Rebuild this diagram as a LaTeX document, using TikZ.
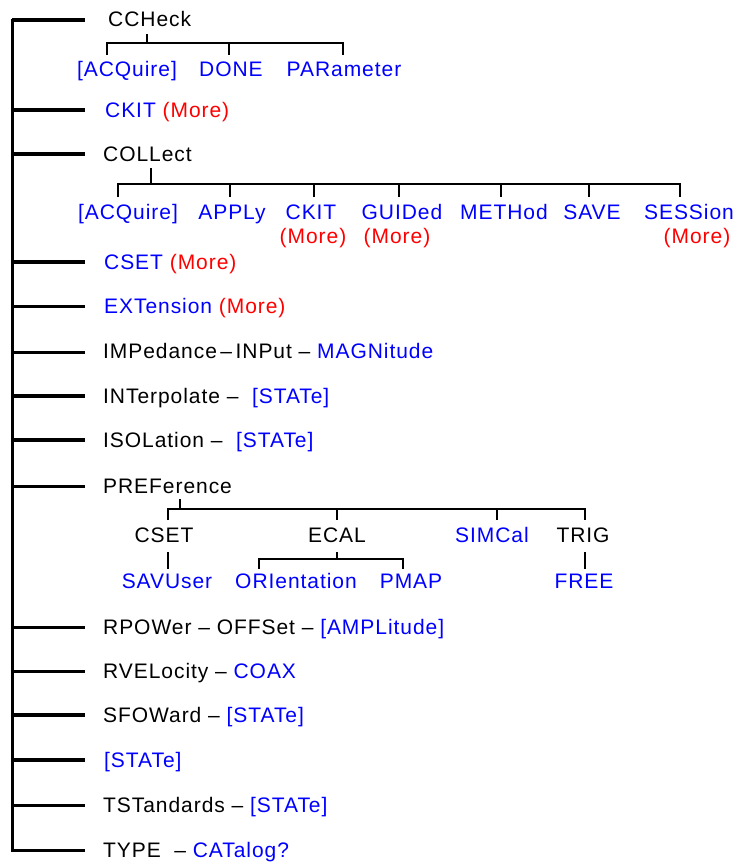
\documentclass[tikz,border=0pt]{standalone}
\usepackage{fontspec}
\setmainfont[LetterSpace=4.5]{Liberation Sans}
\usetikzlibrary{positioning}
\definecolor{cmdblue}{RGB}{0,0,255}
\definecolor{morered}{RGB}{255,0,0}

\begin{document}
\begin{tikzpicture}[x=1pt,y=-1pt,every node/.style={font=\fontsize{21}{25}\selectfont,inner sep=0pt},
  cmd/.style={anchor=base west},
  kid/.style={anchor=base,text=cmdblue},
  more/.style={anchor=base,text=morered},
  heavy/.style={line width=4.5pt},
  light/.style={line width=3pt},
  fine/.style={line width=1.3pt}]
\useasboundingbox (0,0) rectangle (735,862);
\coordinate (top) at (12,18.5);
\coordinate (bot) at (12,851.5);
\draw[line width=3pt] (top)--(bot);
\draw[heavy](12,20)--(85,20);
\draw[heavy](12,110)--(85,110);
\draw[heavy](12,154)--(85,154);
\draw[heavy](12,262)--(85,262);
\draw[light](12,306)--(85,306);
\draw[light](12,352)--(85,352);
\draw[heavy](12,396)--(85,396);
\draw[heavy](12,440)--(85,440);
\draw[light](12,486)--(85,486);
\draw[light](12,627)--(85,627);
\draw[light](12,671)--(85,671);
\draw[heavy](12,715)--(85,715);
\draw[heavy](12,760)--(85,760);
\draw[light](12,805)--(85,805);
\draw[light](12,850)--(85,850);
\node[cmd] (ccheck) at (108,27) {CCHeck};
\node[cmd] (ckit) at (105,117) {\textcolor{cmdblue}{CKIT} \textcolor{morered}{(More)}};
\node[cmd] (collect) at (103,161) {COLLect};
\node[cmd] (cset) at (104,269) {\textcolor{cmdblue}{CSET} \textcolor{morered}{(More)}};
\node[cmd] (ext) at (104,313) {\textcolor{cmdblue}{EXTension} \textcolor{morered}{(More)}};
\node[cmd] (imp) at (103,358) {IMPedance\,--\,INPut -- \textcolor{cmdblue}{MAGNitude}};
\node[cmd] (interp) at (103,403) {INTerpolate --\ \ \textcolor{cmdblue}{[STATe]}};
\node[cmd] (isol) at (103,447) {ISOLation --\ \ \textcolor{cmdblue}{[STATe]}};
\node[cmd] (pref) at (103,493) {PREFerence};
\node[cmd] (rpow) at (103,634) {RPOWer -- OFFSet -- \textcolor{cmdblue}{[AMPLitude]}};
\node[cmd] (rvel) at (103,678) {RVELocity -- \textcolor{cmdblue}{COAX}};
\node[cmd] (sfow) at (103,722) {SFOWard -- \textcolor{cmdblue}{[STATe]}};
\node[cmd,text=cmdblue] (state) at (104,767) {[STATe]};
\node[cmd] (tstd) at (103,812) {TSTandards -- \textcolor{cmdblue}{[STATe]}};
\node[cmd] (type) at (103,857) {TYPE\ \ -- \textcolor{cmdblue}{CATalog?}};
\draw[fine](147,34)--(147,43);
\draw[fine](107,55)--(107,43)--(343,43)--(343,55);
\draw[fine](229,43)--(229,55);
\node[kid] (ccacq) at (127,76) {[ACQuire]};
\node[kid] (ccdone) at (231,76) {DONE};
\node[kid] (ccpar) at (344,76) {PARameter};
\draw[fine](151,168)--(151,184);
\draw[fine](118,197)--(118,184)--(680,184)--(680,197);
\draw[fine](230,184)--(230,197);
\draw[fine](314,184)--(314,197);
\draw[fine](399,184)--(399,197);
\draw[fine](501,184)--(501,197);
\draw[fine](589,184)--(589,197);
\node[kid] (coacq) at (128,219) {[ACQuire]};
\node[kid] (coapply) at (232,219) {APPLy};
\node[kid] (cockit) at (311,219) {CKIT};
\node[kid] (coguid) at (402,219) {GUIDed};
\node[kid] (cometh) at (504,219) {METHod};
\node[kid] (cosave) at (592,219) {SAVE};
\node[kid] (cosess) at (689,219) {SESSion};
\node[more] at (313,243) {(More)};
\node[more] at (397,243) {(More)};
\node[more] at (697,243) {(More)};
\draw[fine](180,499)--(180,509);
\draw[fine](168,520)--(168,509)--(585,509)--(585,520);
\draw[fine](337,509)--(337,520);
\draw[fine](497,509)--(497,520);
\node[kid,text=black] (prcset) at (164,542) {CSET};
\node[kid,text=black] (precal) at (337,542) {ECAL};
\node[kid] (prsim) at (492,542) {SIMCal};
\node[kid,text=black] (prtrig) at (583,542) {TRIG};
\draw[fine](168,552)--(168,569);
\draw[fine](337,552)--(337,559);
\draw[fine](259,569)--(259,559)--(403,559)--(403,569);
\draw[fine](585,552)--(585,569);
\node[kid] (prsav) at (167,588) {SAVUser};
\node[kid] (prori) at (296,588) {ORIentation};
\node[kid] (prpmap) at (411,588) {PMAP};
\node[kid] (prfree) at (584,588) {FREE};
\end{tikzpicture}
\end{document}
